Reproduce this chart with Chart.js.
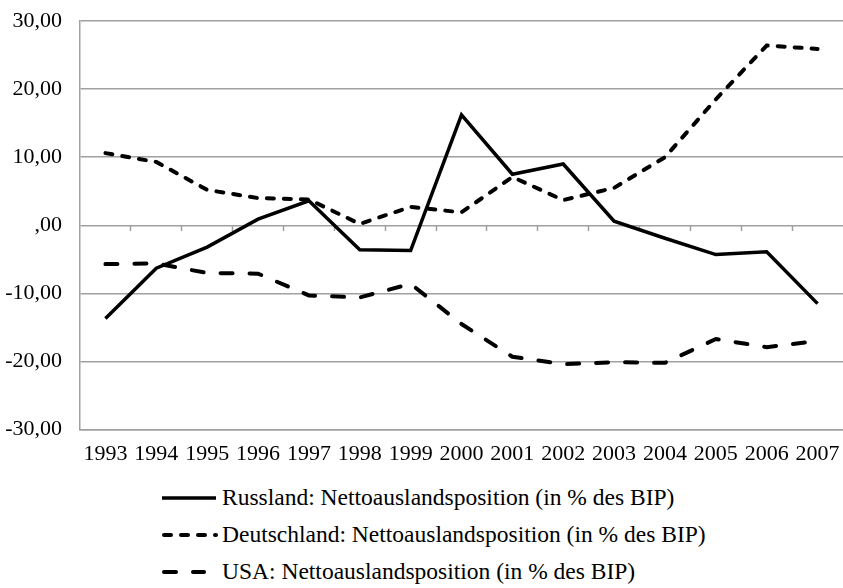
<!DOCTYPE html>
<html>
<head>
<meta charset="utf-8">
<script src="https://cdn.jsdelivr.net/npm/chart.js@4"></script>
<style>
  body { margin: 0; background: #fff; }
  #wrap { position: relative; width: 843px; height: 588px; font-family: "Liberation Serif", "Times New Roman", serif; }
  #chart-box { position: absolute; left: 0; top: 0; width: 843px; height: 478px; }
  .legend-row { position: absolute; left: 0; height: 30px; width: 843px; }
  .legend-row svg { position: absolute; left: 160px; top: 0; }
  .legend-row span { position: absolute; left: 222px; top: 1px; font-size: 23.5px; line-height: 28px; color: #000; white-space: nowrap; }
</style>
</head>
<body>
<div id="wrap">
  <div id="chart-box"><canvas id="myChart" width="843" height="478"></canvas></div>
  <div id="legend"></div>
</div>
<script>
// Daten
const years = ["1993", "1994", "1995", "1996", "1997", "1998", "1999", "2000", "2001", "2002", "2003", "2004", "2005", "2006", "2007"];
const russland = [-13.7, -6.3, -3.2, 0.9, 3.6, -3.6, -3.7, 16.2, 7.5, 9.0, 0.6, -1.9, -4.3, -3.9, -11.5];
const deutschland = [10.6, 9.3, 5.2, 4.0, 3.8, 0.2, 2.7, 1.9, 7.1, 3.7, 5.5, 10.0, 18.5, 26.4, 25.9];
const usa = [-5.7, -5.6, -7.0, -7.1, -10.3, -10.6, -8.6, -14.5, -19.3, -20.4, -20.1, -20.2, -16.7, -17.9, -17.0];
const yTicks = [-30, -20, -10, 0, 10, 20, 30];
const seriesNames = [
  "Russland: Nettoauslandsposition (in % des BIP)",
  "Deutschland: Nettoauslandsposition (in % des BIP)",
  "USA: Nettoauslandsposition (in % des BIP)"
];

const gridGray = "#a0a0a0";
const fontTxt = { family: "'Liberation Serif', 'Times New Roman', serif", size: 22 };

function fmt(v) {
  if (v === 0) return ",00";
  return v.toFixed(2).replace(".", ",");
}

// kein Rand rechts/links fuer die x-Achsen
function noSidePadding(scale) {
  scale.paddingLeft = 0;
  scale.paddingRight = 0;
}

const ctx = document.getElementById("myChart");
const myChart = new Chart(ctx, {
  type: "line",
  data: {
    labels: years,
    datasets: [
      { label: seriesNames[0], data: russland, borderColor: "#000", borderWidth: 3.5, pointRadius: 0, tension: 0, borderJoinStyle: "miter" },
      { label: seriesNames[1], data: deutschland, borderColor: "#000", borderWidth: 4, pointRadius: 0, tension: 0, borderDash: [7, 10], borderCapStyle: "round" },
      { label: seriesNames[2], data: usa, borderColor: "#000", borderWidth: 4, pointRadius: 0, tension: 0, borderDash: [12, 17], borderCapStyle: "round" }
    ]
  },
  options: {
    responsive: false,
    animation: false,
    layout: { padding: { top: 21, right: 0, bottom: 0, left: 0 } },
    plugins: {
      legend: { display: false },
      tooltip: { enabled: false }
    },
    scales: {
      x: {
        offset: true,
        afterFit: noSidePadding,
        grid: { display: false, drawTicks: false },
        border: { display: true, color: gridGray, width: 1.5 },
        ticks: { color: "#000", font: fontTxt, padding: 11, maxRotation: 0, autoSkip: false }
      },
      xZero: {
        type: "category",
        axis: "x",
        labels: years,
        offset: true,
        position: { y: 0 },
        afterFit: noSidePadding,
        grid: {
          offset: true,
          drawOnChartArea: false,
          drawTicks: true,
          tickLength: 6,
          tickWidth: 1.5,
          tickColor: (c) => (c.index === 0 || c.index === undefined) ? "rgba(0,0,0,0)" : gridGray
        },
        border: { display: false },
        ticks: { display: false }
      },
      y: {
        min: -30,
        max: 30,
        afterFit: (scale) => {
          scale.width = 80;
          scale.paddingTop = 0;
          scale.paddingBottom = 0;
        },
        afterBuildTicks: (scale) => { scale.ticks = yTicks.map(v => ({ value: v })); },
        grid: { color: gridGray, lineWidth: 1.5, drawTicks: false },
        border: { display: true, color: gridGray, width: 1.5 },
        ticks: { color: "#000", font: fontTxt, padding: 18, callback: (v) => fmt(v) }
      }
    }
  }
});

// Legende unter dem Diagramm
const legend = document.getElementById("legend");
const rowTops = [482, 519, 556];
const dashes = ["", "7 10", "12 17"];
const widths = [3.5, 4, 4];
const lineEnds = [216, 216, 204];
for (let i = 0; i < seriesNames.length; i++) {
  let dashAttr = dashes[i] ? `stroke-dasharray="${dashes[i]}" stroke-linecap="round"` : "";
  let x1 = dashes[i] ? 4 : 2;
  legend.innerHTML += `<div class="legend-row" style="top:${rowTops[i]}px">
    <svg width="62" height="30"><line x1="${x1}" y1="16" x2="${lineEnds[i] - 160}" y2="16" stroke="#000" stroke-width="${widths[i]}" ${dashAttr}/></svg>
    <span>${seriesNames[i]}</span>
  </div>`;
}
</script>
</body>
</html>
